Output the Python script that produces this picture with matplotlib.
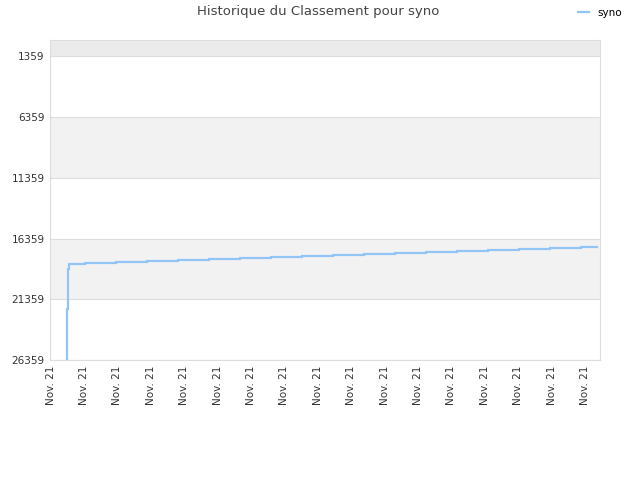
import matplotlib
matplotlib.use("Agg")
import matplotlib.pyplot as plt
from matplotlib.lines import Line2D

title = "Historique du Classement pour syno"
series_name = "syno"

# x positions (in tick units) and rank values (step-post)
x_vals = [0.485, 0.485, 0.485, 0.515, 0.515, 0.515, 0.515, 0.554,
          1.033, 1.961, 2.889, 3.817, 4.746, 5.674, 6.602, 7.530, 8.458,
          9.386, 10.314, 11.242, 12.171, 13.099, 14.027, 14.955, 15.883, 16.362]
ranks = [26359, 23062, 22156, 21250, 20261, 19272, 18860, 18449,
         18367, 18284, 18202, 18119, 18037, 17955, 17872, 17790, 17707,
         17625, 17543, 17460, 17378, 17295, 17213, 17131, 17048, 17048]

y_ticks = [1359, 6359, 11359, 16359, 21359, 26359]
x_ticks = list(range(17))
x_labels = ["Nov. 21"] * 17

fig = plt.figure(figsize=(6.4, 4.8), dpi=100)
ax = fig.add_axes([50/640, 120/480, 550/640, 320/480])

ax.set_ylim(26359, 0)
ax.set_xlim(-0.015, 16.45)

# background bands
ax.axhspan(0, 1359, color="#ebebeb", zorder=0, lw=0)
ax.axhspan(6359, 11359, color="#f2f2f2", zorder=0, lw=0)
ax.axhspan(16359, 21359, color="#f2f2f2", zorder=0, lw=0)
for yv in y_ticks:
    ax.axhline(yv, color="#dddddd", lw=0.8, zorder=1)

ax.plot(x_vals, ranks, drawstyle="steps-post", color="#92c5f5", lw=1.6, zorder=3,
        solid_joinstyle="miter")

ax.set_yticks(y_ticks)
ax.set_yticklabels([str(v) for v in y_ticks], fontsize=7.5, color="#333333")
ax.set_xticks(x_ticks)
ax.set_xticklabels(x_labels, rotation=90, fontsize=7.5, color="#333333")
ax.tick_params(length=0, pad=4)

for s in ax.spines.values():
    s.set_color("#dddddd")
    s.set_linewidth(0.8)

fig.text(318/640, 1 - 12/480, title, ha="center", va="center", fontsize=9.5, color="#444444")

fig.legend(handles=[Line2D([0], [0], color="#92c5f5", lw=1.6)], labels=[series_name],
           loc="center right", bbox_to_anchor=(627/640, 1 - 13/480), frameon=False,
           fontsize=7.5, handlelength=1.0, handletextpad=0.8, borderpad=0,
           labelcolor="#000000")

fig.savefig("out.png", dpi=100)
